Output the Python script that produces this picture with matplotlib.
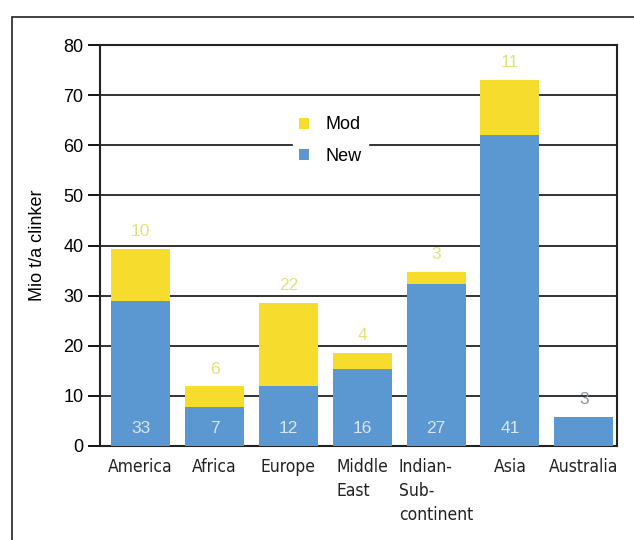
import matplotlib
matplotlib.use("Agg")
import matplotlib.pyplot as plt
from matplotlib.patches import Rectangle

regions = ["America", "Africa", "Europe", "Middle\nEast", "Indian-\nSub-\ncontinent", "Asia", "Australia"]
new_capacity = [29.0, 7.8, 11.9, 15.4, 32.3, 62.0, 5.8]
mod_capacity = [10.4, 4.1, 16.7, 3.2, 2.5, 11.0, 0.0]
new_counts = ["33", "7", "12", "16", "27", "41", ""]
mod_counts = ["10", "6", "22", "4", "3", "11", "3"]
yticks = [0, 10, 20, 30, 40, 50, 60, 70, 80]

blue = "#5b97d0"
yellow = "#f6dc2c"

plt.rcParams["font.family"] = ["Liberation Sans", "DejaVu Sans"]

fig = plt.figure(figsize=(6.34, 5.40), dpi=100)
ax = fig.add_axes([100 / 634, 1 - 446 / 540, 517 / 634, 401 / 540])

x = list(range(len(regions)))
ax.bar(x, new_capacity, width=0.8, color=blue, zorder=3, label="New")
ax.bar(x, mod_capacity, width=0.8, bottom=new_capacity, color=yellow, zorder=3, label="Mod")

for xi, n, m, nc, mc in zip(x, new_capacity, mod_capacity, new_counts, mod_counts):
    if nc:
        ax.text(xi, 2.0, nc, ha="center", va="bottom", color="#d8e6f5", fontsize=12.5, zorder=4)
    col = "#e0e27a" if m > 0 else "#8796a0"
    ax.annotate(mc, (xi, n + m), xytext=(0, 7), textcoords="offset points",
                ha="center", va="bottom", color=col, fontsize=12.5, zorder=4)

ax.set_xlim(-0.55, 6.45)
ax.set_ylim(0, 80)
ax.set_yticks(yticks)
ax.tick_params(axis="y", labelsize=13, length=9, width=1.3, direction="out", pad=3)
ax.yaxis.grid(True, color="#222222", linewidth=1.3, zorder=0)
ax.set_axisbelow(True)
ax.set_xticks(x)
ax.set_xticklabels(regions, family="DejaVu Sans",
                   va="top", ha="center", multialignment="left", color="#222222")
ax.tick_params(axis="x", length=0, pad=9)
for lab in ax.get_xticklabels():
    lab.set_fontstretch("condensed")
    lab.set_fontsize(12.5)
    lab.set_linespacing(1.42)

for s in ["left", "right", "top", "bottom"]:
    ax.spines[s].set_linewidth(1.5)
    ax.spines[s].set_color("#222222")

ax.set_ylabel("Mio t/a clinker", fontsize=13, labelpad=12)

handles, labels = ax.get_legend_handles_labels()
leg = ax.legend(handles[::-1], labels[::-1], loc="upper left", bbox_to_anchor=(0.355, 0.86),
                frameon=True, fontsize=13, handlelength=0.55, handleheight=0.55,
                handletextpad=0.9, labelspacing=0.8, borderpad=0.35)
leg.get_frame().set_edgecolor("white")
leg.get_frame().set_facecolor("white")
leg.get_frame().set_alpha(1.0)
leg.set_zorder(5)

fig.patches.append(Rectangle((12 / 634, -0.01), 1.2, 1 - 17 / 540 + 0.01, transform=fig.transFigure,
                             fill=False, edgecolor="#222222", linewidth=1.2, zorder=0))

fig.savefig("out.png", dpi=100)
